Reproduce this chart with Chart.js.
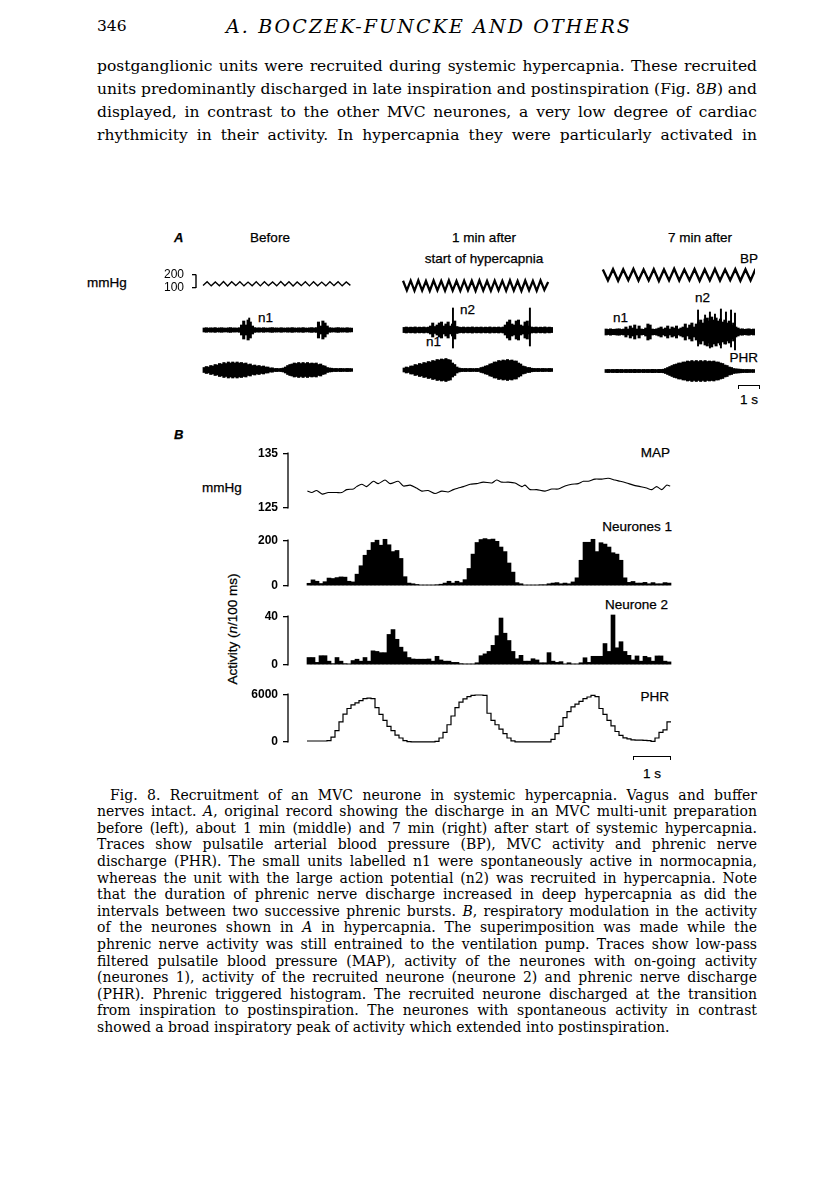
<!DOCTYPE html>
<html>
<head>
<meta charset="utf-8">
<script src="https://cdn.jsdelivr.net/npm/chart.js@4.4.1/dist/chart.umd.min.js"></script>
<style>
html,body{margin:0;padding:0;background:#fff;}
body{width:816px;height:1177px;position:relative;overflow:hidden;}
.t{position:absolute;white-space:nowrap;color:#000;line-height:1;}
.serif{font-family:"DejaVu Serif",serif;}
.sans{font-family:"Liberation Sans",Arial,sans-serif;-webkit-text-stroke:0.25px #000;}
.jl{display:inline-block;}
canvas{position:absolute;}
.sb{position:absolute;border-top:1.5px solid #000;border-left:1.5px solid #000;border-right:1.5px solid #000;height:4px;box-sizing:border-box;}
</style>
</head>
<body>
<!-- page header and body text -->
<div class="t serif" style="left:97px;top:19px;font-size:15.5px;">346</div>
<div class="t serif jl" data-ls="406" style="left:226px;top:17px;font-size:19px;font-style:italic;">A. BOCZEK-FUNCKE AND OTHERS</div>

<div class="t serif jl" data-w="660" style="left:97px;top:58.8px;font-size:15.5px;">postganglionic units were recruited during systemic hypercapnia. These recruited</div>
<div class="t serif jl" data-w="660" style="left:97px;top:81.8px;font-size:15.5px;">units predominantly discharged in late inspiration and postinspiration (Fig. 8<i>B</i>) and</div>
<div class="t serif jl" data-w="660" style="left:97px;top:104.8px;font-size:15.5px;">displayed, in contrast to the other MVC neurones, a very low degree of cardiac</div>
<div class="t serif jl" data-w="660" style="left:97px;top:127.8px;font-size:15.5px;">rhythmicity in their activity. In hypercapnia they were particularly activated in</div>

<!-- Panel A labels -->
<div class="t sans" style="left:174px;top:231px;font-size:13px;font-style:italic;font-weight:bold;">A</div>
<div class="t sans" style="left:270px;top:231px;font-size:13.5px;transform:translateX(-50%);">Before</div>
<div class="t sans" style="left:484px;top:231px;font-size:13.5px;transform:translateX(-50%);">1 min after</div>
<div class="t sans" style="left:484px;top:252px;font-size:13.5px;transform:translateX(-50%);">start of hypercapnia</div>
<div class="t sans" style="left:700px;top:231px;font-size:13.5px;transform:translateX(-50%);">7 min after</div>
<div class="t sans" style="left:758px;top:252px;font-size:13.5px;transform:translateX(-100%);">BP</div>
<div class="t sans" style="left:87px;top:276px;font-size:13.5px;">mmHg</div>
<div class="t sans" style="left:258px;top:311px;font-size:13.5px;">n1</div>
<div class="t sans" style="left:460px;top:303px;font-size:13.5px;">n2</div>
<div class="t sans" style="left:426px;top:335px;font-size:13.5px;">n1</div>
<div class="t sans" style="left:613px;top:311px;font-size:13.5px;">n1</div>
<div class="t sans" style="left:695px;top:291px;font-size:13.5px;">n2</div>
<div class="t sans" style="left:758px;top:351px;font-size:13.5px;transform:translateX(-100%);">PHR</div>
<div class="sb" style="left:738px;top:385px;width:22px;"></div>
<div class="t sans" style="left:749px;top:393px;font-size:13.5px;transform:translateX(-50%);">1 s</div>

<!-- Panel B labels -->
<div class="t sans" style="left:174px;top:428px;font-size:13px;font-style:italic;font-weight:bold;">B</div>
<div class="t sans" style="left:670px;top:446px;font-size:13.5px;transform:translateX(-100%);">MAP</div>
<div class="t sans" style="left:202px;top:481px;font-size:13.5px;">mmHg</div>
<div class="t sans" style="left:672px;top:520px;font-size:13.5px;transform:translateX(-100%);">Neurones 1</div>
<div class="t sans" style="left:668px;top:598px;font-size:13.5px;transform:translateX(-100%);">Neurone 2</div>
<div class="t sans" style="left:669px;top:690px;font-size:13.5px;transform:translateX(-100%);">PHR</div>
<div class="t sans" style="left:233px;top:629px;font-size:13.5px;transform:translate(-50%,-50%) rotate(-90deg);">Activity (<i>n</i>/100 ms)</div>
<div class="sb" style="left:633px;top:756px;width:38px;"></div>
<div class="t sans" style="left:652px;top:767px;font-size:13.5px;transform:translateX(-50%);">1 s</div>

<!-- caption -->
<div class="t serif jl" data-w="647" style="left:110px;top:787.6px;font-size:14px;">Fig. 8. Recruitment of an MVC neurone in systemic hypercapnia. Vagus and buffer</div>
<div class="t serif jl" data-w="660" style="left:97px;top:804.2px;font-size:14px;">nerves intact. <i>A</i>, original record showing the discharge in an MVC multi-unit preparation</div>
<div class="t serif jl" data-w="660" style="left:97px;top:820.8px;font-size:14px;">before (left), about 1 min (middle) and 7 min (right) after start of systemic hypercapnia.</div>
<div class="t serif jl" data-w="660" style="left:97px;top:837.4px;font-size:14px;">Traces show pulsatile arterial blood pressure (BP), MVC activity and phrenic nerve</div>
<div class="t serif jl" data-w="660" style="left:97px;top:854px;font-size:14px;">discharge (PHR). The small units labelled n1 were spontaneously active in normocapnia,</div>
<div class="t serif jl" data-w="660" style="left:97px;top:870.6px;font-size:14px;">whereas the unit with the large action potential (n2) was recruited in hypercapnia. Note</div>
<div class="t serif jl" data-w="660" style="left:97px;top:887.2px;font-size:14px;">that the duration of phrenic nerve discharge increased in deep hypercapnia as did the</div>
<div class="t serif jl" data-w="660" style="left:97px;top:903.8px;font-size:14px;">intervals between two successive phrenic bursts. <i>B</i>, respiratory modulation in the activity</div>
<div class="t serif jl" data-w="660" style="left:97px;top:920.4px;font-size:14px;">of the neurones shown in <i>A</i> in hypercapnia. The superimposition was made while the</div>
<div class="t serif jl" data-w="660" style="left:97px;top:937px;font-size:14px;">phrenic nerve activity was still entrained to the ventilation pump. Traces show low-pass</div>
<div class="t serif jl" data-w="660" style="left:97px;top:953.6px;font-size:14px;">filtered pulsatile blood pressure (MAP), activity of the neurones with on-going activity</div>
<div class="t serif jl" data-w="660" style="left:97px;top:970.2px;font-size:14px;">(neurones 1), activity of the recruited neurone (neurone 2) and phrenic nerve discharge</div>
<div class="t serif jl" data-w="660" style="left:97px;top:986.8px;font-size:14px;">(PHR). Phrenic triggered histogram. The recruited neurone discharged at the transition</div>
<div class="t serif jl" data-w="660" style="left:97px;top:1003.4px;font-size:14px;">from inspiration to postinspiration. The neurones with spontaneous activity in contrast</div>
<div class="t serif" style="left:97px;top:1020px;font-size:14px;">showed a broad inspiratory peak of activity which extended into postinspiration.</div>

<script>
// ---------------- DATA ----------------
// Panel A: blood pressure (mmHg), successive troughs/peaks of the pulsatile trace
const bpBefore = [115,146,112,144,113,147,111,145,114,146,112,143,113,145,112,146,114,144,112,147,113,145,111,144,114,146,112,145,113,143,112,146,114,145,112,144,116];
const bpMiddle = [156,108,157,106,158,107,155,105,157,108,156,106,158,107,155,106,157,108,156,105,158,107,155,106,157,108,156,106,158,107,155,105,157,108,156,106,158,110,150];
const bpRight  = [212,158,214,156,213,159,215,157,212,158,214,155,213,158,216,157,212,159,214,156,213,158,215,157,212,159,214,156,213,158,216];
const bpTicks = [100, 200];

// Panel A: MVC multi-unit envelope amplitude per 100 ms (arbitrary units)
const mvcBefore = [2,2.3,1.9,2.2,2,2.4,1.9,2.1,2.3,2,
  1.9,2.2,2.4,2,2.1,1.9,2.3,5,9,5,
  10,8,4,2.4,2,2.2,1.9,2.3,2,1.9,
  2.2,2.4,2,2.1,1.9,2.3,2,1.9,2.2,2,
  2.4,2.1,1.9,2.2,2,2.4,2,1.9,2.2,2.4,
  2,2.4,8,4,9,7,4,2.3,2.1,1.9,
  2.2,2.4,2,2.1,1.9,2.3,2,1.9];
const mvcMiddle = [2.6,3,2.5,2.9,2.6,3.1,2.5,2.9,2.6,3,
  2.5,2.9,4,7,3.5,5,7,8,4,6,
  8,4,6,9,3.5,2.9,2.6,3,2.5,2.9,
  2.6,3.1,2.5,2.9,2.6,3,2.5,2.9,2.6,3.1,
  2.5,2.9,2.6,3,2.5,3,5,8,10,6,
  5,9,10,5,4,8,9,4,3,2.6,
  3,2.5,2.9,2.6,3.1,2.5,2.9,2.6];
const mvcRight = [3,2.6,3.2,2.7,2.8,3.1,3.2,2.6,3,5,
  3,6,4,7,3,6,3,2.7,4,8,
  7,3,2.7,3.2,4,5,3,4,6,3,
  5,4,6,3,4,5,8,4,7,9,
  5,8,10,12,9,13,14,11,15,12,
  14,11,13,10,12,9,11,7,9,5,
  4,3,3.2,2.7,3,3.2,2.6,3];
// Panel A: large action potentials (time s, top, bottom)
const spikeBeforeT = [2.1],  spikeBeforeHi = [12], spikeBeforeLo = [-7];
const spikeMiddleT = [2.27, 5.77], spikeMiddleHi = [22, 22], spikeMiddleLo = [-18, -16];
const spikeRightT  = [4.23, 4.55, 4.77, 5.0, 5.27, 5.5, 5.73, 5.91];
const spikeRightHi = [22, 17, 20, 18, 23, 20, 22, 19];
const spikeRightLo = [-14, -12, -16, -10, -16, -12, -15, -18];

// Panel A: phrenic nerve envelope amplitude per 100 ms
const phrBefore = [2.5,3.5,3,4.5,4,5.5,5,6.5,6,7.5,
  6.5,8,7,8,7,8,7,7.5,6.5,7,
  5.5,6,4.5,5,4,4.5,3.5,4,3,3,
  2,2.2,1.5,1.6,1.4,1.6,2,3,4.5,5.5,
  6,7,6.5,7.5,6.5,7.5,6.5,7.5,6.5,7,
  6.5,7,5.5,6,4.5,4,2.5,2,1.8,1.5,
  1.6,1.4,1.6,1.5,1.4,1.6,1.5,1.4];
const phrMiddle = [2,3,2.5,4,4,5.5,5,6.5,6,7.5,
  7,8.5,8,9.5,9,10.5,10,11,10.5,11.5,
  10.5,10,7,5.5,3,2,1.6,1.5,1.6,1.4,
  1.6,1.5,1.4,1.6,1.5,2.5,3,4,4.5,6,
  6.5,8,8,9.5,9,10,9.5,10.5,9.5,10,
  9,9,7,6,4,3.5,2.5,2.5,1.8,1.6,
  1.5,1.6,1.4,1.6,1.5,1.4,1.6,1.5];
const phrRight = [1.5,1.6,1.4,1.6,1.5,1.7,1.5,1.6,1.4,1.6,
  1.5,1.6,1.5,1.7,1.5,1.6,1.4,1.6,1.5,1.6,
  1.5,1.7,1.6,1.5,1.7,1.6,1.8,2.5,3.5,4.5,
  5.5,6.5,7,8,8,9,9,10,9.5,10.5,
  9.5,10.5,9.5,10.5,9.5,10.5,9.5,10,9.5,10,
  9,9,8,7.5,6,5.5,4,3.5,2.5,2.2,
  2,1.8,1.6,1.5,1.6,1.5,1.4,1.5];

// Panel B: MAP (time s, mmHg)
const mapT = [0.01,0.12,0.24,0.38,0.53,0.74,0.87,0.99,1.16,1.24,1.37,1.49,1.66,1.78,1.95,2.08,2.28,2.41,2.58,2.74,2.87,3.03,3.20,3.37,3.53,3.66,3.78,3.91,4.08,4.24,4.41,4.62,4.74,4.87,5.03,5.20,5.37,5.45,5.58,5.74,5.95,6.12,6.28,6.45,6.62,6.78,6.91,7.03,7.20,7.37,7.53,7.70,7.83,7.99,8.16,8.33,8.49,8.62,8.74,8.87,8.99,9.08];
const mapV = [128.06,127.79,128.17,127.51,127.79,127.79,127.79,128.33,128.44,128.88,129.32,128.88,129.86,129.43,130.08,129.43,129.86,128.99,129.15,128.61,128.06,128.17,127.62,128.06,127.90,128.33,128.61,128.88,129.32,129.43,129.70,129.54,130.08,129.70,129.70,129.54,128.88,129.15,128.33,128.33,128.06,128.44,128.44,128.99,129.32,129.43,129.86,129.86,130.25,130.25,130.41,130.08,129.86,129.54,129.15,128.88,128.61,128.33,128.88,128.33,129.15,128.99];
const mapTicks = [125, 135];

// Panel B: phrenic-triggered histograms, 100 ms bins
const neurones1 = [11,26,20,10,18,34,32,36,39,38,
  20,17,51,88,134,156,190,200,178,204,
  180,150,155,120,40,12,9,6,4,4,
  4,4,5,7,12,20,12,20,14,27,
  76,139,190,203,207,203,205,195,170,150,
  100,60,14,9,4,4,4,4,5,5,
  9,12,14,9,12,9,17,35,112,191,
  191,204,150,189,183,170,145,139,112,35,
  15,19,12,12,15,9,14,9,9,14,12];
const neurone2 = [6,6,2,7.5,7.5,3,1,6,3,1,
  0.8,3.5,4.6,3,6,3,11.5,11,10,10,
  25,29,21,14.5,10.7,6,4.8,4.6,4.6,4.6,
  4.8,3,7,4,3,3,2,2,1,0.8,
  0.8,0.8,1.7,7.5,9,11,16,24,38.5,26,
  20,11,5,7.8,3,3,5,4,1.7,1.7,
  10,3,2,2.6,0.8,1.7,0.8,0.8,1.7,5.8,
  2,7,7,7,17.5,11,41,14,19,11,
  7.8,4,7.3,3,7,6,3,7.3,7.3,3,2.4];
const phrB = [100,100,100,100,100,150,600,1400,2500,3500,
  4200,4650,4900,5200,5450,5500,5450,4300,3450,2700,
  1950,1400,850,480,150,30,0,0,0,0,
  0,0,50,480,1200,2150,3250,4300,5000,5400,
  5700,5850,5900,5900,5850,3600,2700,2150,1600,1040,
  480,110,0,0,0,0,0,0,0,0,
  0,300,1040,1950,3050,3800,4400,4750,5100,5450,
  5650,5850,5700,4200,3450,2700,2000,1300,800,500,
  370,250,220,200,180,150,60,480,1200,1500,2500];
const n1Ticks = [0, 200];
const n2Ticks = [0, 40];
const phrTicks = [0, 6000];

// ---------------- RENDERING ----------------
const BIN = 0.1;               // histogram / envelope bin width (s)
const SANS = "'Liberation Sans', Arial, sans-serif";
Chart.defaults.font.family = SANS;

const bracket = {
  id: 'bracket',
  afterDraw(chart, args, o) {
    if (!o || o.lo === undefined) return;
    const y = chart.scales.y, ctx = chart.ctx, x = chart.chartArea.left;
    ctx.save();
    ctx.strokeStyle = '#000'; ctx.lineWidth = o.w || 1.3;
    ctx.beginPath();
    ctx.moveTo(x, y.getPixelForValue(o.lo) + 0.6);
    ctx.lineTo(x, y.getPixelForValue(o.hi) - 0.6);
    ctx.stroke();
    ctx.restore();
  }
};

function yScale(min, max, ticks, axisW, tickLen, pad, fontSize, weight) {
  const show = !!ticks;
  return {
    display: show, min: min, max: max,
    afterBuildTicks: s => { if (ticks) s.ticks = ticks.map(v => ({ value: v })); },
    afterFit: s => { s.width = axisW; },
    grid: { drawOnChartArea: false, drawTicks: true, tickLength: tickLen, color: '#000', lineWidth: 1.3 },
    border: { display: false },
    ticks: { padding: pad, color: '#000', font: { family: SANS, size: fontSize, weight: weight }, callback: v => String(v) }
  };
}

function place(p) {
  const c = document.createElement('canvas');
  const W = p.axisW + p.areaW, H = p.padT + p.areaH + p.padB;
  c.width = W; c.height = H;
  c.style.width = W + 'px'; c.style.height = H + 'px';
  c.style.left = (p.left - p.axisW) + 'px'; c.style.top = (p.top - p.padT) + 'px';
  document.body.appendChild(c);
  return new Chart(c, {
    type: p.type,
    data: { datasets: p.datasets },
    plugins: [bracket],
    options: {
      responsive: false, animation: false, devicePixelRatio: 1,
      layout: { padding: { top: p.padT, bottom: p.padB, left: 0, right: 0 } },
      plugins: { legend: { display: false }, tooltip: { enabled: false }, bracket: p.bracket || {} },
      scales: {
        x: { type: 'linear', min: p.xmin, max: p.xmax, display: false, offset: false },
        y: p.y
      }
    }
  });
}

// ---- Panel A ----
const A_XMIN = -0.32, A_XMAX = 6.82, A_W = 157;
const cols = [
  { left: 196, bp: bpBefore, bpT: [0, 6.7], bpW: 1.4, mvc: mvcBefore, phr: phrBefore, sT: spikeBeforeT, sH: spikeBeforeHi, sL: spikeBeforeLo, mvcTop: 308, phrTop: 355, axis: true },
  { left: 396, bp: bpMiddle, bpT: [0, 6.6], bpW: 2.3, mvc: mvcMiddle, phr: phrMiddle, sT: spikeMiddleT, sH: spikeMiddleHi, sL: spikeMiddleLo, mvcTop: 308, phrTop: 355, axis: false },
  { left: 598, bp: bpRight, bpT: [-0.1, 6.85], bpW: 2.4, mvc: mvcRight, phr: phrRight, sT: spikeRightT, sH: spikeRightHi, sL: spikeRightLo, mvcTop: 310, phrTop: 356, axis: false }
];

cols.forEach(col => {
  const n = col.bp.length;
  const bpData = col.bp.map((v, i) => ({ x: col.bpT[0] + i * (col.bpT[1] - col.bpT[0]) / (n - 1), y: v }));
  const axisW = col.axis ? 40 : 0;
  place({
    type: 'line', left: col.left, top: 264, areaW: A_W, areaH: 32, axisW: axisW, padT: 9, padB: 9,
    xmin: A_XMIN, xmax: A_XMAX,
    y: yScale(80, 240, col.axis ? bpTicks : null, axisW, 4, 8, 12, 'normal'),
    bracket: col.axis ? { lo: bpTicks[0], hi: bpTicks[1], w: 1.4 } : {},
    datasets: [{ data: bpData, borderColor: '#000', borderWidth: col.bpW, pointRadius: 0, tension: 0, clip: false }]
  });
  const env = arr => arr.map((a, i) => ({ x: (i + 0.5) * BIN, y: [-a, a] }));
  const spikes = col.sT.map((t, i) => ({ x: t, y: [col.sL[i], col.sH[i]] }));
  place({
    type: 'bar', left: col.left, top: col.mvcTop, areaW: A_W, areaH: 44, axisW: 0, padT: 2, padB: 2,
    xmin: A_XMIN, xmax: A_XMAX,
    y: yScale(-22, 22, null, 0, 0, 0, 12, 'normal'),
    datasets: [
      { data: env(col.mvc), backgroundColor: '#000', borderWidth: 0, barThickness: 2.4, grouped: false, clip: false },
      { data: spikes, backgroundColor: '#000', borderWidth: 0, barThickness: 1.3, grouped: false, clip: false }
    ]
  });
  place({
    type: 'bar', left: col.left, top: col.phrTop, areaW: A_W, areaH: 30, axisW: 0, padT: 2, padB: 2,
    xmin: A_XMIN, xmax: A_XMAX,
    y: yScale(-15, 15, null, 0, 0, 0, 12, 'normal'),
    datasets: [{ data: env(col.phr), backgroundColor: '#000', borderWidth: 0, barThickness: 2.4, grouped: false, clip: false }]
  });
});

// ---- Panel B ----
const B_XMIN = -0.475, B_XMAX = 9.125, B_W = 384, B_AX = 60, B_LEFT = 288;
const hist = arr => arr.map((v, i) => ({ x: (i + 0.5) * BIN, y: v }));

place({
  type: 'line', left: B_LEFT, top: 451, areaW: B_W, areaH: 61, axisW: B_AX, padT: 10, padB: 8,
  xmin: B_XMIN, xmax: B_XMAX,
  y: yScale(mapTicks[0], mapTicks[1], mapTicks, B_AX, 5, 5, 12, 'bold'),
  bracket: { lo: mapTicks[0], hi: mapTicks[1] },
  datasets: [{ data: mapT.map((t, i) => ({ x: t, y: mapV[i] })), borderColor: '#000', borderWidth: 1.1, pointRadius: 0, tension: 0.25 }]
});
place({
  type: 'bar', left: B_LEFT, top: 538, areaW: B_W, areaH: 52, axisW: B_AX, padT: 10, padB: 8,
  xmin: B_XMIN, xmax: B_XMAX,
  y: yScale(n1Ticks[0], n1Ticks[1], n1Ticks, B_AX, 5, 5, 12, 'bold'),
  bracket: { lo: n1Ticks[0], hi: n1Ticks[1] },
  datasets: [{ data: hist(neurones1), backgroundColor: '#000', borderWidth: 0, barPercentage: 1, categoryPercentage: 1, clip: false }]
});
place({
  type: 'bar', left: B_LEFT, top: 614, areaW: B_W, areaH: 55, axisW: B_AX, padT: 10, padB: 8,
  xmin: B_XMIN, xmax: B_XMAX,
  y: yScale(n2Ticks[0], n2Ticks[1], n2Ticks, B_AX, 5, 5, 12, 'bold'),
  bracket: { lo: n2Ticks[0], hi: n2Ticks[1] },
  datasets: [{ data: hist(neurone2), backgroundColor: '#000', borderWidth: 0, barPercentage: 1, categoryPercentage: 1, clip: false }]
});
const phrPts = phrB.map((v, i) => ({ x: i * BIN, y: v }));
phrPts.push({ x: phrB.length * BIN, y: phrB[phrB.length - 1] });
place({
  type: 'line', left: B_LEFT, top: 692, areaW: B_W, areaH: 54, axisW: B_AX, padT: 10, padB: 8,
  xmin: B_XMIN, xmax: B_XMAX,
  y: yScale(phrTicks[0], phrTicks[1], phrTicks, B_AX, 5, 5, 12, 'bold'),
  bracket: { lo: phrTicks[0], hi: phrTicks[1] },
  datasets: [{ data: phrPts, borderColor: '#000', borderWidth: 1.2, pointRadius: 0, stepped: true, clip: false }]
});

// ---- justify text lines to the printed measure ----
document.querySelectorAll('.jl').forEach(el => {
  if (el.dataset.w) {
    el.style.wordSpacing = '0px';
    const w = el.getBoundingClientRect().width;
    const n = (el.textContent.match(/ /g) || []).length;
    if (n) el.style.wordSpacing = ((parseFloat(el.dataset.w) - w) / n) + 'px';
  } else if (el.dataset.ls) {
    el.style.letterSpacing = '0px';
    const w = el.getBoundingClientRect().width;
    const n = el.textContent.length;
    el.style.letterSpacing = ((parseFloat(el.dataset.ls) - w) / n) + 'px';
  }
});
</script>
</body>
</html>
